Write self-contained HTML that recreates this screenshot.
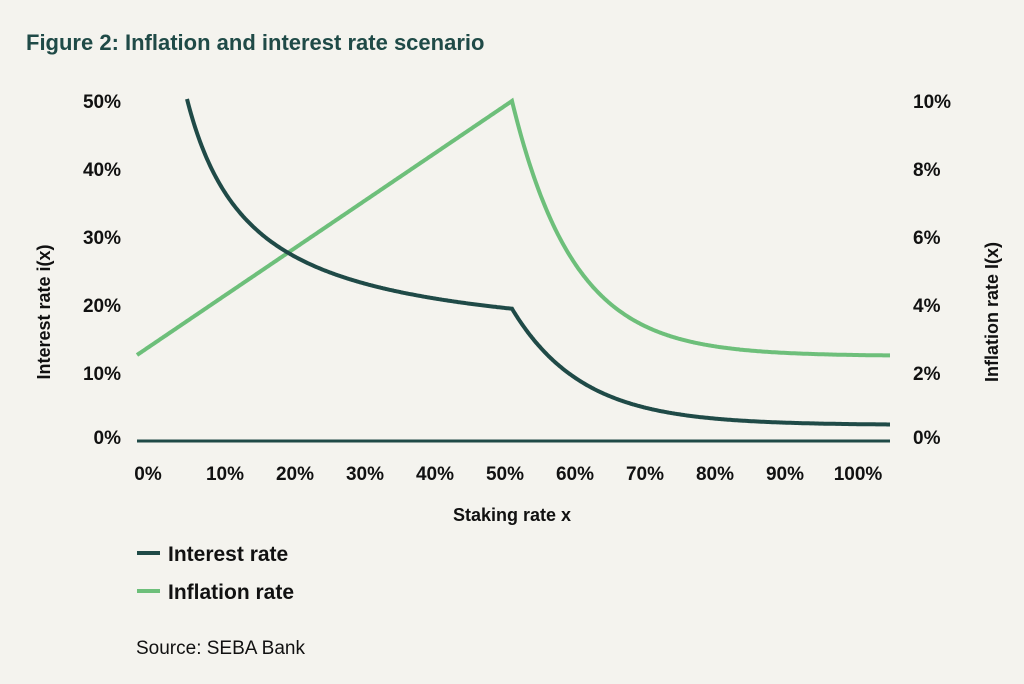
<!DOCTYPE html>
<html><head><style>
body{margin:0;background:#f4f3ee;}
svg{display:block;font-family:"Liberation Sans",sans-serif;}
</style></head><body>
<svg id="s" width="1024" height="684" viewBox="0 0 1024 684">
<rect width="1024" height="684" fill="#f4f3ee"/>
<text x="26" y="50" font-size="22" font-weight="bold" fill="#1f4a47">Figure 2: Inflation and interest rate scenario</text>
<g font-size="19" font-weight="bold" fill="#111">
<g text-anchor="end">
<text x="121" y="108">50%</text><text x="121" y="176">40%</text><text x="121" y="244">30%</text>
<text x="121" y="312">20%</text><text x="121" y="380">10%</text><text x="121" y="444">0%</text>
</g>
<g text-anchor="start">
<text x="913" y="108">10%</text><text x="913" y="176">8%</text><text x="913" y="244">6%</text>
<text x="913" y="312">4%</text><text x="913" y="380">2%</text><text x="913" y="444">0%</text>
</g>
<g text-anchor="middle">
<text x="148" y="480">0%</text><text x="225" y="480">10%</text><text x="295" y="480">20%</text>
<text x="365" y="480">30%</text><text x="435" y="480">40%</text><text x="505" y="480">50%</text>
<text x="575" y="480">60%</text><text x="645" y="480">70%</text><text x="715" y="480">80%</text>
<text x="785" y="480">90%</text><text x="858" y="480">100%</text>
<text x="512" y="521" font-size="18">Staking rate x</text>
<text transform="translate(50,312) rotate(-90)" font-size="18">Interest rate i(x)</text>
<text transform="translate(998,312) rotate(-90)" font-size="18">Inflation rate I(x)</text>
</g>
</g>
<line x1="137" y1="441" x2="890" y2="441" stroke="#1f4a47" stroke-width="3"/>
<polyline id="inf" fill="none" stroke="#6dbf7a" stroke-width="4" stroke-linejoin="miter"/>
<polyline id="int" fill="none" stroke="#1f4a47" stroke-width="4"/>
<line x1="137" y1="553" x2="160" y2="553" stroke="#1f4a47" stroke-width="4"/>
<text x="168" y="561" font-size="21" font-weight="bold" fill="#111">Interest rate</text>
<line x1="137" y1="591" x2="160" y2="591" stroke="#6dbf7a" stroke-width="4"/>
<text x="168" y="599" font-size="21" font-weight="bold" fill="#111">Inflation rate</text>
<text x="136" y="654" font-size="19" fill="#111">Source: SEBA Bank</text>
</svg>
<script>
var a=[],b=[];
function pre(X){var x=(X-155)/707; return 441-6.8*(3.33/(x+0.045)+13.4);}
var y0=pre(512);
for(var X=137;X<=890;X+=1){
 var yg;
 if(X<=512) yg=355+(101-355)*(X-137)/375;
 else yg=356-(356-101)*Math.exp(-(X-512)/62);
 a.push(X+","+yg.toFixed(1));
 if(X>=187){
  var yi;
  if(X<=512) yi=pre(X);
  else yi=425-(425-y0)*Math.exp(-(X-512)/70);
  b.push(X+","+yi.toFixed(1));
 }
}
document.getElementById("inf").setAttribute("points",a.join(" "));
document.getElementById("int").setAttribute("points",b.join(" "));
</script>
</body></html>
